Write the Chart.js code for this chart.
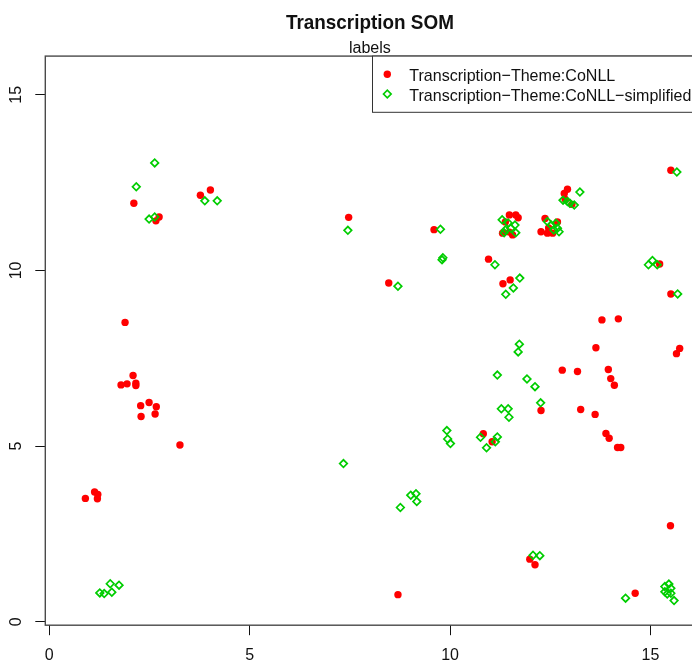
<!DOCTYPE html>
<html>
<head>
<meta charset="utf-8">
<title>Transcription SOM</title>
<script src="https://cdn.jsdelivr.net/npm/chart.js@4.4.0/dist/chart.umd.min.js"></script>
<style>
  html, body { margin: 0; padding: 0; background: #fff; overflow: hidden; width: 692px; height: 666px; }
  #wrap { position: relative; width: 700px; height: 666px; }
  canvas { display: block; }
</style>
</head>
<body>
<div id="wrap"><canvas id="som" width="700" height="666"></canvas></div>
<script>
// Mapped positions of the two label classes on the SOM grid
const conllX = [
  0.90, 1.13, 1.21, 1.20, 3.26,
  2.09, 1.79, 1.94, 2.16, 2.16, 2.49, 2.28, 2.67, 2.64, 2.29,
  1.89, 2.11, 2.74, 2.66, 3.77, 4.02, 7.47,
  8.47, 8.70, 9.60, 10.96, 10.83, 11.05, 11.32, 11.50, 12.27, 11.99, 12.12,
  11.48, 11.64, 11.70, 11.38, 11.31, 11.56, 11.48,
  12.37, 12.27, 12.43, 12.56, 12.46, 12.68,
  12.93, 12.85, 13.04, 12.87,
  12.80, 13.18, 13.26, 13.62, 13.64, 13.79, 13.95, 14.01, 14.10, 13.89, 13.97, 14.18, 14.26, 14.20,
  14.62, 15.23, 15.51, 15.51, 15.73, 15.65, 15.50
];
const conllY = [
  3.51, 3.69, 3.62, 3.50, 5.03,
  7.01, 6.74, 6.77, 6.79, 6.72, 6.24, 6.15, 6.12, 5.91, 5.84,
  8.52, 11.91, 11.52, 11.41, 12.14, 12.29, 11.51,
  9.64, 0.77, 11.16, 10.32, 5.35, 5.12, 9.62, 9.73, 6.01, 1.78, 1.62,
  11.58, 11.58, 11.50, 11.38, 11.06, 11.01, 11.09,
  11.48, 11.10, 11.06, 11.06, 11.21, 11.38,
  12.31, 12.19, 11.88, 12.03,
  7.16, 7.12, 6.04, 5.90, 7.80, 8.59, 7.18, 6.92, 6.73, 5.36, 5.22, 4.96, 4.96, 8.62,
  0.81, 10.18, 12.85, 9.33, 7.78, 7.63, 2.73
];
const simplifiedX = [
  1.26, 1.37, 1.52, 1.56, 1.74,
  2.17, 2.63, 2.49, 2.63, 3.88, 4.19, 7.45, 7.34,
  8.70, 9.02, 9.15, 9.17, 8.76, 9.76, 9.82, 9.80, 9.92, 9.94, 10.01,
  11.12, 10.76, 11.13, 11.18, 10.91, 11.18, 11.28, 11.45, 11.47,
  11.74, 11.58, 11.39, 11.73, 11.70, 11.92, 12.12, 12.26, 12.07, 12.24,
  11.30, 11.45, 11.62, 11.52, 11.38, 11.64, 11.35,
  12.43, 12.52, 12.64, 12.68, 12.72, 12.59,
  13.24, 12.82, 12.93, 12.99, 13.10,
  14.38, 14.95, 15.05, 15.17, 15.66, 15.68,
  15.36, 15.46, 15.51, 15.36, 15.42, 15.51, 15.59
];
const simplifiedY = [
  0.82, 0.80, 1.08, 0.84, 1.04,
  12.38, 13.06, 11.46, 11.52, 11.98, 11.98, 11.14, 4.50,
  9.55, 3.60, 3.64, 3.42, 3.25, 11.17, 10.36, 10.30, 5.44, 5.20, 5.07,
  10.16, 5.25, 5.12, 5.26, 4.95, 7.02, 6.06, 6.06, 5.82,
  9.78, 9.50, 9.32, 7.90, 7.68, 6.91, 6.69, 6.23, 1.89, 1.88,
  11.44, 11.35, 11.29, 11.20, 11.15, 11.07, 11.07,
  11.39, 11.29, 11.34, 11.20, 11.10, 11.15,
  12.23, 12.00, 11.96, 11.91, 11.86,
  0.67, 10.16, 10.28, 10.16, 12.80, 9.33,
  1.00, 1.07, 0.95, 0.85, 0.79, 0.81, 0.60
];
const seriesNames = ['Transcription\u2212Theme:CoNLL', 'Transcription\u2212Theme:CoNLL\u2212simplified'];
const xTicks = [0, 5, 10, 15];
const yTicks = [0, 5, 10, 15];

const FONT = '"Liberation Sans", Arial, Helvetica, sans-serif';
const RED = '#ff0000';
const GREEN = '#00cd00';

const toPoints = (xs, ys) => xs.map((x, i) => ({ x: x, y: ys[i] }));

// Draws text squeezed horizontally to a target width
function fitText(ctx, text, x, y, width, align) {
  const w = ctx.measureText(text).width;
  const s = width ? width / w : 1;
  ctx.save();
  ctx.translate(x, y);
  ctx.scale(s, 1);
  ctx.textAlign = align;
  ctx.fillText(text, 0, 0);
  ctx.restore();
}

const frame = {
  id: 'frame',
  afterDraw(chart) {
    const { ctx, chartArea: a, scales } = chart;
    ctx.save();

    // plot box
    ctx.strokeStyle = '#4a4a4a';
    ctx.lineWidth = 1.4;
    ctx.strokeRect(a.left, a.top, a.right - a.left, a.bottom - a.top);

    // vertical tick labels, rotated as in base graphics
    ctx.fillStyle = '#111';
    ctx.font = '16px ' + FONT;
    yTicks.forEach(v => {
      const py = scales.y.getPixelForValue(v);
      ctx.save();
      ctx.translate(17, py);
      ctx.rotate(-Math.PI / 2);
      ctx.textAlign = 'center';
      ctx.textBaseline = 'middle';
      ctx.fillText(String(v), 0, 0);
      ctx.restore();
    });

    // titles
    const cx = (a.left + a.right) / 2;
    ctx.textBaseline = 'alphabetic';
    ctx.font = 'bold 21px ' + FONT;
    fitText(ctx, 'Transcription SOM', cx, 29, 168, 'center');
    ctx.font = '16px ' + FONT;
    fitText(ctx, 'labels', cx, 53, 42, 'center');

    // legend box
    const lx = 372, ly = a.top, lb = 112.3;
    ctx.fillStyle = '#fff';
    ctx.fillRect(lx, ly, a.right - lx, lb - ly);
    ctx.strokeStyle = '#333';
    ctx.lineWidth = 1;
    ctx.strokeRect(lx + 0.5, ly, a.right - lx, lb - ly);

    // legend keys
    ctx.fillStyle = RED;
    ctx.beginPath();
    ctx.arc(387.3, 74.3, 3.7, 0, Math.PI * 2);
    ctx.fill();
    ctx.strokeStyle = GREEN;
    ctx.lineWidth = 1.7;
    const r = 3.8;
    ctx.beginPath();
    ctx.moveTo(387.3 - r, 94);
    ctx.lineTo(387.3, 94 - r);
    ctx.lineTo(387.3 + r, 94);
    ctx.lineTo(387.3, 94 + r);
    ctx.closePath();
    ctx.stroke();

    ctx.fillStyle = '#111';
    ctx.font = '17px ' + FONT;
    ctx.textBaseline = 'alphabetic';
    fitText(ctx, seriesNames[0], 409.3, 80.7, 206, 'left');
    fitText(ctx, seriesNames[1], 409.3, 100.7, 282, 'left');

    ctx.restore();
  }
};

new Chart(document.getElementById('som'), {
  type: 'scatter',
  data: {
    datasets: [
      {
        label: seriesNames[0],
        data: toPoints(conllX, conllY),
        order: 2,
        pointStyle: 'circle',
        pointRadius: 3.7,
        pointHoverRadius: 3.7,
        pointBackgroundColor: RED,
        pointBorderWidth: 0,
        pointBorderColor: RED
      },
      {
        label: seriesNames[1],
        data: toPoints(simplifiedX, simplifiedY),
        order: 1,
        pointStyle: 'rectRot',
        pointRadius: 3.8,
        pointHoverRadius: 3.8,
        pointBackgroundColor: 'rgba(0,0,0,0)',
        pointBorderColor: GREEN,
        pointBorderWidth: 1.7
      }
    ]
  },
  options: {
    responsive: false,
    animation: false,
    devicePixelRatio: 1,
    events: [],
    layout: { padding: { top: 56.1, right: 4.4, left: 0, bottom: 0 } },
    plugins: {
      legend: { display: false },
      title: { display: false },
      tooltip: { enabled: false }
    },
    scales: {
      x: {
        type: 'linear',
        min: -0.1,
        max: 16.1,
        afterBuildTicks: s => { s.ticks = xTicks.map(v => ({ value: v })); },
        afterFit: s => { s.height = 40.8; s.paddingLeft = 0; s.paddingRight = 0; },
        border: { display: false },
        grid: { drawOnChartArea: false, drawTicks: true, tickLength: 10, tickColor: '#111', tickWidth: 1 },
        ticks: { font: { family: FONT, size: 16 }, color: '#111', padding: 11, maxRotation: 0, autoSkip: false }
      },
      y: {
        type: 'linear',
        min: -0.1,
        max: 16.1,
        afterBuildTicks: s => { s.ticks = yTicks.map(v => ({ value: v })); },
        afterFit: s => { s.width = 45.3; s.paddingTop = 0; s.paddingBottom = 0; },
        border: { display: false },
        grid: { drawOnChartArea: false, drawTicks: true, tickLength: 10, tickColor: '#111', tickWidth: 1 },
        ticks: { display: false }
      }
    }
  },
  plugins: [frame]
});
</script>
</body>
</html>
